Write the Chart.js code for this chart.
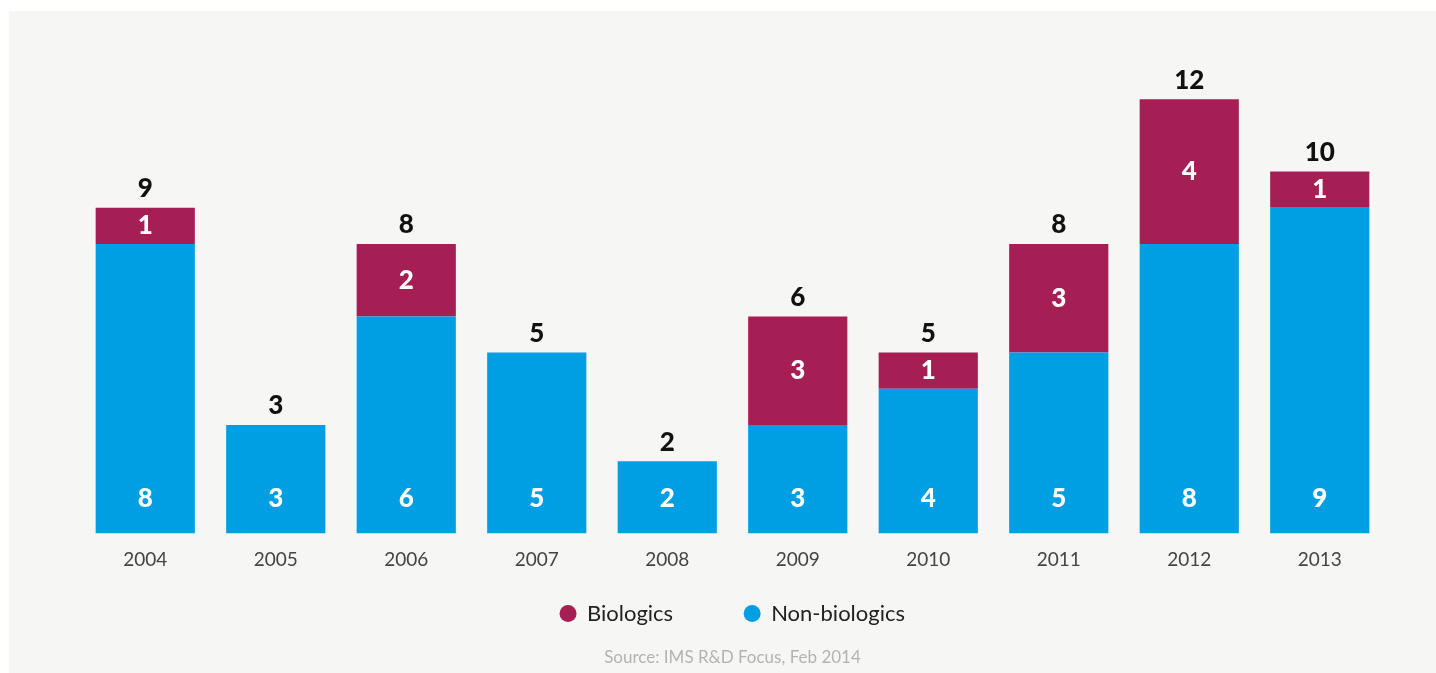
<!DOCTYPE html>
<html>
<head>
<meta charset="utf-8">
<script src="https://cdn.jsdelivr.net/npm/chart.js@4.4.1/dist/chart.umd.min.js"></script>
<style>
  html, body { margin: 0; padding: 0; background: #ffffff; width: 1436px; height: 673px; overflow: hidden; }
  #panel { position: absolute; left: 9px; top: 11px; width: 1427px; height: 662px; background: #f6f6f4; }
</style>
</head>
<body>
<div id="panel"><canvas id="c" width="1427" height="662"></canvas></div>
<script>
const years = ['2004', '2005', '2006', '2007', '2008', '2009', '2010', '2011', '2012', '2013'];
const nonBiologics = [8, 3, 6, 5, 2, 3, 4, 5, 8, 9];
const biologics = [1, 0, 2, 0, 0, 3, 1, 3, 4, 1];
const totals = [9, 3, 8, 5, 2, 6, 5, 8, 12, 10];
const seriesNames = ['Non-biologics', 'Biologics'];
const sourceText = 'Source: IMS R&D Focus, Feb 2014';

const BLUE = '#009fe3';
const MAROON = '#a51f55';
const FONT = 'Lato, "Open Sans", sans-serif';

const labelPlugin = {
  id: 'barLabels',
  afterDatasetsDraw(chart) {
    const ctx = chart.ctx;
    ctx.save();
    ctx.textAlign = 'center';
    ctx.textBaseline = 'middle';
    ctx.font = '900 26px ' + FONT;
    const m0 = chart.getDatasetMeta(0);
    const m1 = chart.getDatasetMeta(1);
    years.forEach((y, i) => {
      const b0 = m0.data[i];
      const b1 = m1.data[i];
      ctx.fillStyle = '#ffffff';
      if (nonBiologics[i] > 0) {
        ctx.fillText(String(nonBiologics[i]), b0.x, b0.base - 35);
      }
      if (biologics[i] > 0) {
        ctx.fillText(String(biologics[i]), b1.x, (b1.y + b1.base) / 2);
      }
      const topY = biologics[i] > 0 ? b1.y : b0.y;
      ctx.fillStyle = '#111111';
      ctx.fillText(String(totals[i]), b0.x, topY - 19);
    });
    ctx.restore();
  }
};

new Chart(document.getElementById('c'), {
  type: 'bar',
  data: {
    labels: years,
    datasets: [
      { label: seriesNames[0], data: nonBiologics, backgroundColor: BLUE, borderWidth: 0 },
      { label: seriesNames[1], data: biologics, backgroundColor: MAROON, borderWidth: 0 }
    ]
  },
  options: {
    responsive: false,
    animation: false,
    devicePixelRatio: 1,
    layout: { padding: { left: 71, right: 51, top: 52, bottom: 2 } },
    datasets: { bar: { categoryPercentage: 0.76, barPercentage: 1.0 } },
    scales: {
      x: {
        stacked: true,
        grid: { display: false, drawTicks: false },
        border: { display: false },
        ticks: { color: '#444444', font: { family: FONT, size: 19 }, padding: 15 },
        afterFit(scale) { scale.height = 47; }
      },
      y: {
        stacked: true,
        display: false,
        min: 0,
        max: 13
      }
    },
    plugins: {
      legend: {
        position: 'bottom',
        labels: {
          usePointStyle: true,
          pointStyle: 'circle',
          boxWidth: 16,
          boxHeight: 12,
          padding: 22,
          color: '#222222',
          font: { family: FONT, size: 22 },
          generateLabels(chart) {
            const items = Chart.defaults.plugins.legend.labels.generateLabels(chart).reverse();
            // invisible spacer between the two entries
            const spacer = {
              text: '', fillStyle: 'rgba(0,0,0,0)', strokeStyle: 'rgba(0,0,0,0)',
              lineWidth: 0, hidden: false, pointStyle: 'circle', datasetIndex: -1
            };
            return [items[0], spacer, items[1]];
          }
        }
      },
      subtitle: {
        display: true,
        position: 'bottom',
        text: sourceText,
        color: '#b3b3b3',
        font: { family: FONT, size: 17, weight: 'normal' },
        padding: { top: 13, bottom: 3 }
      },
      tooltip: { enabled: false }
    }
  },
  plugins: [labelPlugin]
});
</script>
</body>
</html>
